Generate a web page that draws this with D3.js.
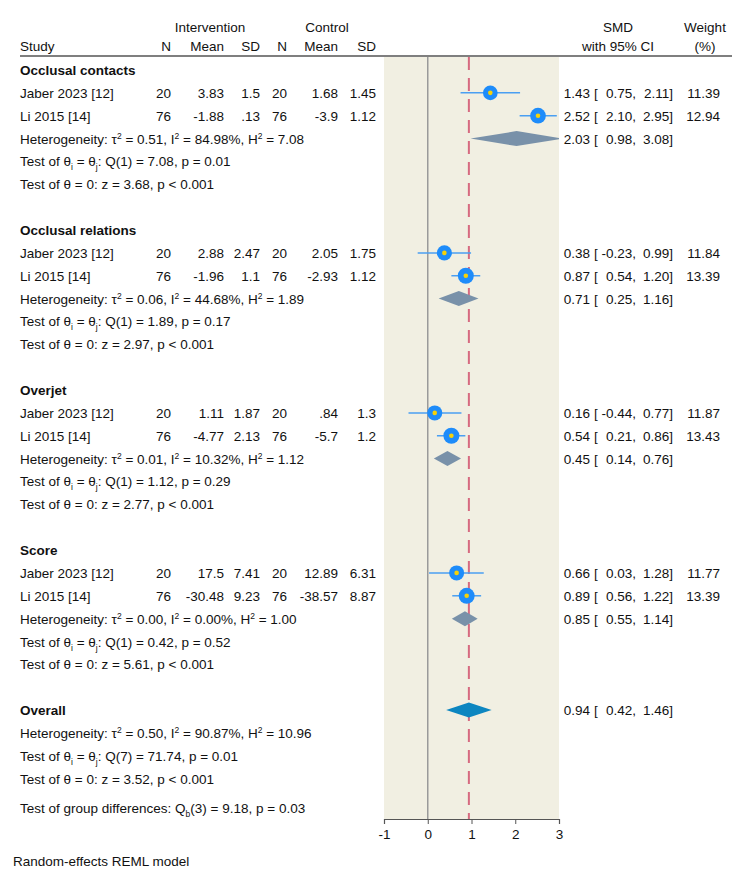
<!DOCTYPE html>
<html>
<head>
<meta charset="utf-8">
<script src="https://cdn.jsdelivr.net/npm/d3@7"></script>
<style>
  body { margin: 0; background: #fff; }
  svg text { font-family: "Liberation Sans", Arial, Helvetica, sans-serif; font-size: 13.5px; fill: #111; }
</style>
</head>
<body>
<div id="chart"></div>
<script>
// ---- data ----
const groupNames = ["Occlusal contacts", "Occlusal relations", "Overjet", "Score"]
const studyNames = ["Jaber 2023 [12]", "Li 2015 [14]", "Jaber 2023 [12]", "Li 2015 [14]",
                    "Jaber 2023 [12]", "Li 2015 [14]", "Jaber 2023 [12]", "Li 2015 [14]"]
const studyGroup = [0, 0, 1, 1, 2, 2, 3, 3]
const intN = ["20", "76", "20", "76", "20", "76", "20", "76"]
const intMean = ["3.83", "-1.88", "2.88", "-1.96", "1.11", "-4.77", "17.5", "-30.48"]
const intSD = ["1.5", ".13", "2.47", "1.1", "1.87", "2.13", "7.41", "9.23"]
const ctrlN = ["20", "76", "20", "76", "20", "76", "20", "76"]
const ctrlMean = ["1.68", "-3.9", "2.05", "-2.93", ".84", "-5.7", "12.89", "-38.57"]
const ctrlSD = ["1.45", "1.12", "1.75", "1.12", "1.3", "1.2", "6.31", "8.87"]
const smd = [1.43, 2.52, 0.38, 0.87, 0.16, 0.54, 0.66, 0.89]
const ciLow = [0.75, 2.10, -0.23, 0.54, -0.44, 0.21, 0.03, 0.56]
const ciHigh = [2.11, 2.95, 0.99, 1.20, 0.77, 0.86, 1.28, 1.22]
const weight = [11.39, 12.94, 11.84, 13.39, 11.87, 13.43, 11.77, 13.39]

const subSmd = [2.03, 0.71, 0.45, 0.85]
const subLow = [0.98, 0.25, 0.14, 0.55]
const subHigh = [3.08, 1.16, 0.76, 1.14]
const subTau2 = ["0.51", "0.06", "0.01", "0.00"]
const subI2 = ["84.98", "44.68", "10.32", "0.00"]
const subH2 = ["7.08", "1.89", "1.12", "1.00"]
const subQ = ["7.08", "1.89", "1.12", "0.42"]
const subQp = ["0.01", "0.17", "0.29", "0.52"]
const subZ = ["3.68", "2.97", "2.77", "5.61"]

const overallSmd = 0.94, overallLow = 0.42, overallHigh = 1.46
const overallStats = { tau2: "0.50", i2: "90.87", h2: "10.96", q: "71.74", qdf: 7, qp: "0.01", z: "3.52" }
const groupTest = { df: 3, q: "9.18", p: "0.03" }
const xTicks = [-1, 0, 1, 2, 3]

// ---- layout ----
const width = 750, height = 880
const svg = d3.select("#chart").append("svg").attr("width", width).attr("height", height)

const x = d3.scaleLinear().domain([-1, 3]).range([384, 559])
const yRow = d3.scaleLinear().domain([0, 1]).range([70, 92.86])   // row index -> row centre
const msize = d3.scaleSqrt().domain([0, 13.43]).range([0, 8])
const panelTop = 57, axisY = 819
const base = 5  // centre -> baseline offset

// text with ^{sup} and _{sub}
function rich(sel, str) {
  const re = /([_^])\{([^}]*)\}/g
  let last = 0, m, shift = 0
  while ((m = re.exec(str)) !== null) {
    if (m.index > last) { sel.append("tspan").attr("dy", -shift).text(str.slice(last, m.index)); shift = 0 }
    const d = m[1] === "^" ? -5 : 4
    sel.append("tspan").attr("dy", d - shift).style("font-size", "8.5px").text(m[2])
    shift = d
    last = re.lastIndex
  }
  if (last < str.length) sel.append("tspan").attr("dy", -shift).text(str.slice(last))
  return sel
}
function txt(xp, yc, s, anchor, bold) {
  const t = svg.append("text").attr("x", xp).attr("y", yc + base).attr("text-anchor", anchor || "start")
  if (bold) t.style("font-weight", "bold")
  return rich(t, s)
}

// plot panel
svg.append("rect").attr("x", x(-1)).attr("y", panelTop).attr("width", x(3) - x(-1)).attr("height", axisY - panelTop)
  .attr("fill", "#f1efe2")
svg.append("line").attr("x1", x(0)).attr("x2", x(0)).attr("y1", panelTop).attr("y2", axisY)
  .attr("stroke", "#9a9a9a").attr("stroke-width", 1.5)
svg.append("line").attr("x1", x(overallSmd)).attr("x2", x(overallSmd)).attr("y1", panelTop).attr("y2", axisY)
  .attr("stroke", "#d66a80").attr("stroke-width", 2).attr("stroke-dasharray", "13,8")

// header
svg.append("line").attr("x1", 20).attr("x2", 732).attr("y1", 56).attr("y2", 56).attr("stroke", "#555").attr("stroke-width", 1.5)
txt(210, 27, "Intervention", "middle")
txt(327, 27, "Control", "middle")
txt(618, 27, "SMD", "middle")
txt(705, 27, "Weight", "middle")
txt(20, 46, "Study")
const colX = [171, 224, 260, 287, 338, 376]
;["N", "Mean", "SD", "N", "Mean", "SD"].forEach((h, i) => txt(colX[i], 46, h, "end"))
txt(618, 46, "with 95% CI", "middle")
txt(705, 46, "(%)", "middle")

function ciText(yc, est, lo, hi) {
  txt(590, yc, est.toFixed(2), "end")
  txt(594, yc, "[")
  txt(636, yc, lo.toFixed(2) + ",", "end")
  txt(673, yc, hi.toFixed(2) + "]", "end")
}

const clip = svg.append("clipPath").attr("id", "pclip").append("rect")
  .attr("x", x(-1)).attr("y", panelTop).attr("width", x(3) - x(-1)).attr("height", axisY - panelTop)
const marks = svg.append("g").attr("clip-path", "url(#pclip)")

function diamond(yc, lo, est, hi, color) {
  marks.append("path")
    .attr("d", `M${x(lo)},${yc}L${x(est)},${yc - 7.5}L${x(hi)},${yc}L${x(est)},${yc + 7.5}Z`)
    .attr("fill", color)
}

groupNames.forEach((g, gi) => {
  const r0 = gi * 7
  txt(20, yRow(r0), g, "start", true)
  const idx = d3.range(studyGroup.length).filter(i => studyGroup[i] === gi)
  idx.forEach((i, k) => {
    const yc = yRow(r0 + 1 + k)
    txt(20, yc, studyNames[i])
    ;[intN[i], intMean[i], intSD[i], ctrlN[i], ctrlMean[i], ctrlSD[i]].forEach((v, c) => txt(colX[c], yc, v, "end"))
    marks.append("line").attr("x1", x(ciLow[i])).attr("x2", x(ciHigh[i])).attr("y1", yc).attr("y2", yc)
      .attr("stroke", "#4a9ff2").attr("stroke-width", 1.5)
    marks.append("circle").attr("cx", x(smd[i])).attr("cy", yc).attr("r", msize(weight[i])).attr("fill", "#1e8cfa")
    marks.append("circle").attr("cx", x(smd[i])).attr("cy", yc).attr("r", 2.3).attr("fill", "#f5d10a")
    ciText(yc, smd[i], ciLow[i], ciHigh[i])
    txt(720, yc, weight[i].toFixed(2), "end")
  })
  const yh = yRow(r0 + 3)
  txt(20, yh, `Heterogeneity: τ^{2} = ${subTau2[gi]}, I^{2} = ${subI2[gi]}%, H^{2} = ${subH2[gi]}`)
  diamond(yh, subLow[gi], subSmd[gi], subHigh[gi], "#7991a9")
  ciText(yh, subSmd[gi], subLow[gi], subHigh[gi])
  txt(20, yRow(r0 + 4), `Test of θ_{i} = θ_{j}: Q(1) = ${subQ[gi]}, p = ${subQp[gi]}`)
  txt(20, yRow(r0 + 5), `Test of θ = 0: z = ${subZ[gi]}, p < 0.001`)
})

// overall
txt(20, yRow(28), "Overall", "start", true)
diamond(yRow(28), overallLow, overallSmd, overallHigh, "#0d86c0")
ciText(yRow(28), overallSmd, overallLow, overallHigh)
txt(20, yRow(29), `Heterogeneity: τ^{2} = ${overallStats.tau2}, I^{2} = ${overallStats.i2}%, H^{2} = ${overallStats.h2}`)
txt(20, yRow(30), `Test of θ_{i} = θ_{j}: Q(${overallStats.qdf}) = ${overallStats.q}, p = ${overallStats.qp}`)
txt(20, yRow(31), `Test of θ = 0: z = ${overallStats.z}, p < 0.001`)
txt(20, yRow(32.3), `Test of group differences: Q_{b}(${groupTest.df}) = ${groupTest.q}, p = ${groupTest.p}`)

// x axis
const ax = svg.append("g").attr("transform", `translate(0,${axisY})`)
  .call(d3.axisBottom(x).tickValues(xTicks).tickFormat(d => String(d)).tickSizeOuter(0).tickSize(5))
ax.select(".domain").attr("stroke", "#555").attr("stroke-width", 1.2)
ax.selectAll(".tick line").attr("stroke", "#555")
ax.selectAll(".tick text").attr("fill", "#111").style("font-size", "13.5px")
  .style("font-family", "'Liberation Sans', Arial, sans-serif").attr("dy", "0.9em")

txt(13, 861, "Random-effects REML model")
</script>
</body>
</html>
